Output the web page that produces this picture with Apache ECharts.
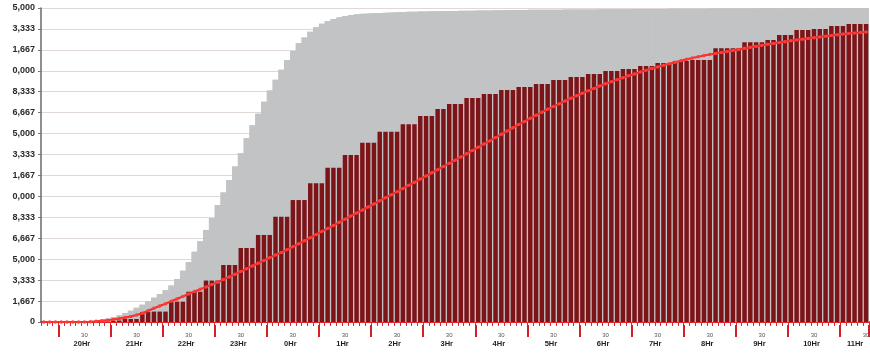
<!DOCTYPE html>
<html>
<head>
<meta charset="utf-8">
<script src="https://cdn.jsdelivr.net/npm/echarts@6/dist/echarts.min.js"></script>
<style>
  html, body { margin: 0; padding: 0; background: #ffffff; }
  #chart { width: 870px; height: 353px; }
</style>
</head>
<body>
<div id="chart"></div>
<script>
// Hour labels along the time axis (one per hour, 9 slots per hour)
const hourLabels = ['20Hr', '21Hr', '22Hr', '23Hr', '0Hr', '1Hr', '2Hr', '3Hr',
  '4Hr', '5Hr', '6Hr', '7Hr', '8Hr', '9Hr', '10Hr', '11Hr'];
const halfHourMark = '30';

// Value-axis tick labels, bottom to top
const yTickLabels = ['0', '1,667', '3,333', '5,000', '6,667', '8,333', '0,000', '1,667',
  '3,333', '5,000', '6,667', '8,333', '0,000', '1,667', '3,333', '5,000'];

// Time slots along the x axis
const slotCount = 143;
const slots = Array.from({ length: slotCount }, (_, i) => 'slot' + i);

// Upper envelope (grey area)
const envelope = [
  0, 0, 0, 0, 0, 0, 0, 0,
  20, 80, 190, 280, 400, 540, 710, 900, 1130, 1380, 1660, 1940, 2220,
  2530, 2900, 3420, 4080, 4770, 5590, 6420, 7330, 8270, 9310, 10320, 11300, 12390, 13440, 14620,
  15670, 16590, 17540, 18440, 19280, 20080, 20860, 21570, 22200, 22660, 23110, 23460, 23750, 23960, 24130,
  24270, 24370, 24450, 24500, 24540, 24570, 24590, 24610, 24630, 24650, 24670, 24690, 24700,
  24710, 24720, 24730, 24740, 24750, 24760, 24765, 24770, 24775, 24780, 24790, 24800, 24805, 24810, 24820, 24830, 24840,
  24845, 24850, 24850, 24855, 24860, 24860, 24865, 24870, 24870, 24875, 24880, 24880, 24885, 24890, 24890, 24895, 24900, 24900, 24905, 24910,
  24910, 24915, 24920, 24920, 24925, 24930, 24930, 24935, 24940, 24940, 24945, 24950, 24950, 24950, 24955, 24960, 24960, 24960, 24965, 24970,
  24970, 24970, 24975, 24975, 24980, 24980, 24980, 24985, 24985, 24985, 24990, 24990, 24990, 24990, 24995, 24995, 24995, 24995, 25000, 25000, 25000, 25000
];

// Recorded totals per slot (dark red bars)
const recorded = [
  0, 0, 0, 0, 0, 0, 0, 0, 0, 0, 0,
  40, 80, 120,
  240, 240, 240,
  800, 800,
  830, 830, 830,
  1620, 1620, 1620,
  2410, 2410, 2410,
  3300, 3300, 3300,
  4540, 4540, 4540,
  5890, 5890, 5890,
  6930, 6930, 6930,
  8380, 8380, 8380,
  9710, 9710, 9710,
  11040, 11040, 11040,
  12280, 12280, 12280,
  13290, 13290, 13290,
  14270, 14270, 14270,
  15150, 15150, 15150, 15150,
  15740, 15740, 15740,
  16400, 16400, 16400,
  16960, 16960,
  17360, 17360, 17360,
  17840, 17840, 17840,
  18150, 18150, 18150,
  18470, 18470, 18470,
  18710, 18710, 18710,
  18950, 18950, 18950,
  19270, 19270, 19270,
  19510, 19510, 19510,
  19750, 19750, 19750,
  19990, 19990, 19990,
  20140, 20140, 20140,
  20380, 20380, 20380,
  20620, 20620, 20620,
  20780, 20780, 20780,
  20860, 20860, 20860, 20860,
  21790, 21790, 21790, 21790, 21790,
  22270, 22270, 22270, 22270,
  22460, 22460,
  22850, 22850, 22850,
  23250, 23250, 23250,
  23330, 23330, 23330,
  23570, 23570, 23570,
  23730, 23730, 23730, 23730
];

// Smoothed trend (red line with dots)
const trend = [
  0, 0, 0, 0, 0, 0, 0, 0,
  20, 50, 90, 140, 200, 270, 350, 440, 560, 700, 890, 1090, 1280, 1460,
  1650, 1840, 2030, 2230, 2420, 2600, 2790, 2980, 3170, 3380, 3590, 3800, 4020, 4240, 4460,
  4680, 4900, 5120, 5330, 5540, 5750, 5990, 6230, 6470, 6710, 6960, 7200, 7450, 7690, 7940,
  8190, 8440, 8680, 8920, 9160, 9400, 9650, 9890, 10130, 10380, 10630, 10880, 11130, 11380, 11630,
  11880, 12130, 12380, 12630, 12880, 13130, 13390, 13650, 13910, 14170, 14420, 14680, 14950, 15210, 15470,
  15720, 15970, 16220, 16460, 16700, 16930, 17160, 17380, 17600, 17810, 18010, 18210, 18410, 18600, 18790,
  18960, 19130, 19290, 19450, 19600, 19750, 19900, 20040, 20180, 20310, 20440, 20560, 20680, 20800, 20910,
  21020, 21120, 21220, 21300, 21380, 21460, 21540, 21620, 21700, 21790, 21870, 21950, 22030, 22110, 22180,
  22250, 22320, 22390, 22460, 22520, 22580, 22640, 22700, 22760, 22820, 22870, 22920, 22970, 23010, 23050, 23090
];

const yMax = 25000;
const yStep = yMax / 15;
const axisRed = '#e2252a';
const greyFill = '#c2c3c5';
const font = 'Liberation Sans';

const chart = echarts.init(document.getElementById('chart'), null, { renderer: 'canvas' });

chart.setOption({
  animation: false,
  backgroundColor: '#ffffff',
  grid: { left: 41, right: 1, top: 8, bottom: 31, containLabel: false, outerBoundsMode: 'none' },
  xAxis: [
    {
      // slot axis: minor ticks and hour labels
      type: 'category',
      data: slots,
      boundaryGap: true,
      position: 'bottom',
      offset: 3,
      axisLine: { show: true, lineStyle: { color: axisRed, width: 2 } },
      axisTick: { show: true, interval: 0, length: 4, lineStyle: { color: axisRed, width: 1 } },
      splitLine: { show: false },
      axisLabel: {
        show: true,
        interval: (i) => i % 9 === 7,
        margin: 7,
        hideOverlap: false,
        formatter: (v, i) => {
          const k = Math.round((i - 7) / 9);
          const style = k === hourLabels.length - 1 ? 'hl' : 'h';
          return '{s|' + halfHourMark + '}\n{' + style + '|' + hourLabels[k] + '}';
        },
        rich: {
          s: { fontSize: 6, color: '#555555', lineHeight: 7, fontFamily: font },
          h: { fontSize: 7.5, fontWeight: 'bold', color: '#1e1e1e', lineHeight: 9,
               padding: [0, 5, 0, 0], fontFamily: font },
          hl: { fontSize: 7.5, fontWeight: 'bold', color: '#1e1e1e', lineHeight: 9,
                padding: [0, 22, 0, 0], fontFamily: font }
        }
      }
    },
    {
      // hour axis: long ticks at each full hour
      type: 'category',
      data: slots,
      boundaryGap: true,
      position: 'bottom',
      offset: 3,
      axisLine: { show: false },
      axisTick: { show: true, interval: (i) => i % 9 === 3, length: 12,
                  lineStyle: { color: '#d41f24', width: 2 } },
      axisLabel: { show: false },
      splitLine: { show: false }
    }
  ],
  yAxis: {
    type: 'value',
    min: 0,
    max: yMax,
    interval: yStep,
    axisLine: { show: true, lineStyle: { color: '#6a6a6a', width: 1.5 } },
    axisTick: { show: true, length: 3, lineStyle: { color: '#777777' } },
    splitLine: { show: true, lineStyle: { color: '#e0d8d4', width: 1 } },
    axisLabel: {
      margin: 6,
      fontSize: 9,
      fontWeight: 'bold',
      color: '#2a2a2a',
      fontFamily: font,
      formatter: (v) => yTickLabels[Math.round(v / yStep)]
    }
  },
  series: [
    {
      // envelope as bars (fills the outermost half slots)
      name: 'envelope',
      type: 'bar',
      xAxisIndex: 1,
      data: envelope,
      barWidth: '100%',
      itemStyle: { color: greyFill },
      z: 1,
      silent: true
    },
    {
      // same envelope as a stepped area, giving one seamless grey shape
      name: 'envelopeArea',
      type: 'line',
      xAxisIndex: 1,
      data: envelope,
      step: 'middle',
      symbol: 'none',
      lineStyle: { width: 0 },
      areaStyle: { color: greyFill, opacity: 1 },
      z: 1,
      silent: true
    },
    {
      name: 'recorded',
      type: 'bar',
      xAxisIndex: 0,
      data: recorded,
      barWidth: '77%',
      itemStyle: { color: '#7c1418' },
      z: 2,
      silent: true
    },
    {
      name: 'trend',
      type: 'line',
      xAxisIndex: 0,
      data: trend,
      clip: false,
      symbol: 'circle',
      symbolSize: 3.5,
      showAllSymbol: true,
      lineStyle: { color: '#f2302e', width: 2.2 },
      itemStyle: { color: '#ff3a36' },
      z: 3,
      silent: true
    }
  ]
});
</script>
</body>
</html>
